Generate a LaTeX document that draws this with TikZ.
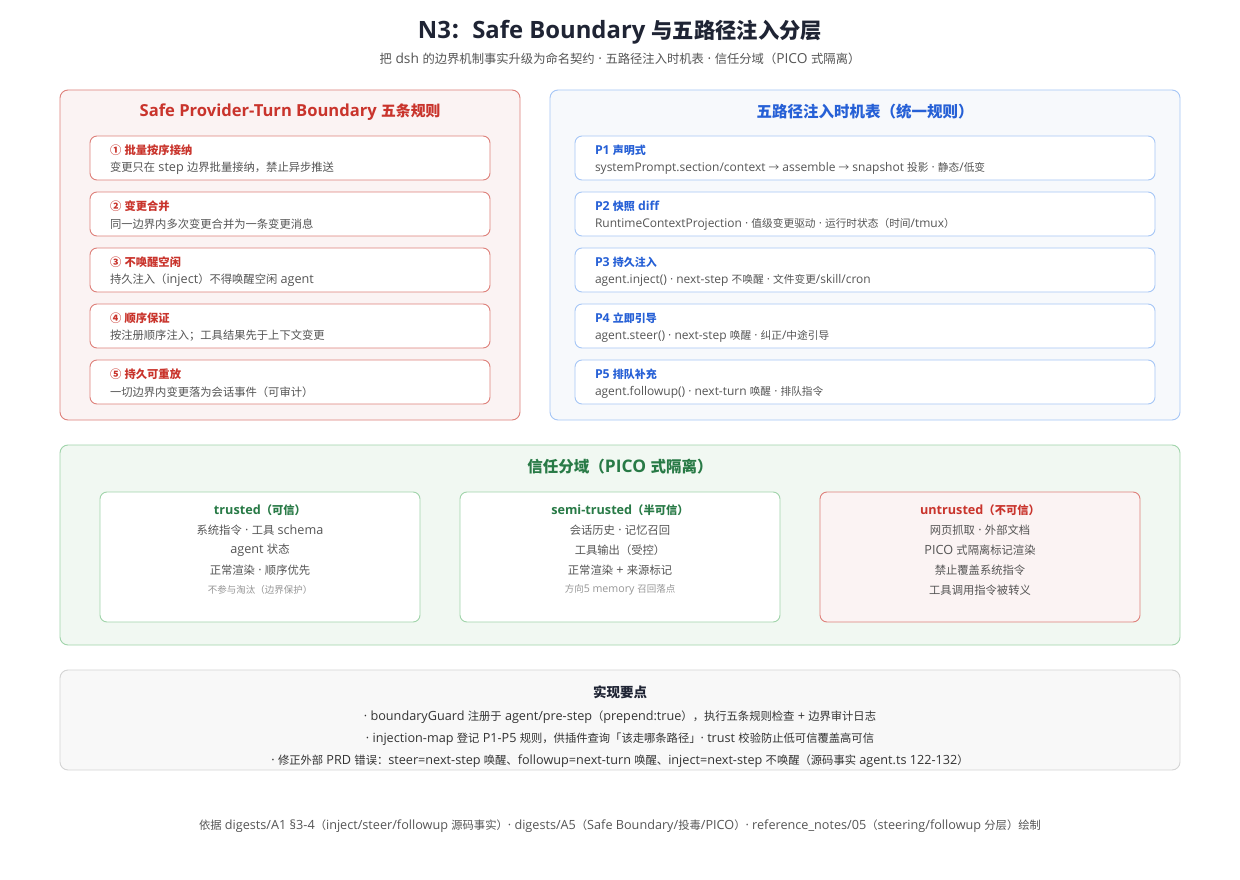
\documentclass[tikz,border=0pt]{standalone}
\usepackage{fontspec}
\setmainfont[Scale=1.12]{Open Sans}
\newfontfamily\latinfont[Scale=1.12]{Open Sans}
\newfontfamily\cjkfont{Noto Sans CJK SC}
\usetikzlibrary{positioning}
% CJK characters switch to the CJK family, everything else stays Latin
\XeTeXinterchartokenstate=1
\newXeTeXintercharclass\cjkclass
\newcommand\setcjkrange[2]{\count255=#1\relax
  \loop\XeTeXcharclass\count255=\cjkclass
  \ifnum\count255<#2\advance\count255 by 1\repeat}
\setcjkrange{"2190}{"21FF}
\setcjkrange{"2460}{"24FF}
\setcjkrange{"3000}{"303F}
\setcjkrange{"4E00}{"9FFF}
\setcjkrange{"FF00}{"FFEF}
\XeTeXinterchartoks 0 \cjkclass = {\cjkfont}
\XeTeXinterchartoks 4095 \cjkclass = {\cjkfont}
\XeTeXinterchartoks \cjkclass 0 = {\latinfont}
\XeTeXinterchartoks \cjkclass 4095 = {\latinfont}

\begin{document}
\begin{tikzpicture}[x=1pt,y=-1pt,
  panel/.style={rounded corners=8pt, line width=0.9pt},
  itembox/.style={rounded corners=7pt, line width=0.9pt, fill=white},
  txt/.style={inner sep=0pt, outer sep=0pt, font=\fontsize{11.3}{13}\selectfont},
  head/.style={txt, font=\fontsize{11.3}{13}\selectfont\bfseries},
  ptxt/.style={txt, font=\fontsize{10.7}{13}\selectfont},
  phead/.style={txt, font=\fontsize{11}{13}\selectfont\bfseries},
  note/.style={txt, font=\fontsize{9.5}{11}\selectfont},
  ptitle/.style={txt, font=\fontsize{15.5}{18}\selectfont\bfseries}]
\definecolor{inkColor}{RGB}{31,36,52}
\definecolor{darkColor}{RGB}{51,51,51}
\definecolor{greyColor}{RGB}{85,85,85}
\definecolor{noteColor}{RGB}{150,150,150}
\definecolor{redColor}{RGB}{201,52,44}
\definecolor{redLine}{RGB}{222,128,122}
\definecolor{redFill}{RGB}{251,243,243}
\definecolor{blueColor}{RGB}{38,96,214}
\definecolor{blueLine}{RGB}{166,198,246}
\definecolor{blueFill}{RGB}{247,249,252}
\definecolor{greenColor}{RGB}{40,122,70}
\definecolor{greenLine}{RGB}{160,212,170}
\definecolor{greenFill}{RGB}{241,248,242}
\definecolor{grayLine}{RGB}{212,212,212}
\definecolor{grayFill}{RGB}{248,248,248}
\path[use as bounding box,fill=white] (0,0) rectangle (1240,880);

% title
\node[txt,text=inkColor,font=\fontsize{21.3}{25}\selectfont\bfseries] (title) at (620,32) {N3：Safe Boundary 与五路径注入分层};
\node[txt,text=greyColor,font=\fontsize{12.3}{14}\selectfont] (subtitle) at (620,59) {把 dsh 的边界机制事实升级为命名契约 · 五路径注入时机表 · 信任分域（PICO 式隔离）};

% left panel: boundary rules
\path[panel,draw=redLine,fill=redFill] (60,90) rectangle (520,420);
\node[ptitle,text=redColor,font=\fontsize{14.8}{18}\selectfont\bfseries] (ruletitle) at (290,112) {Safe Provider-Turn Boundary 五条规则};
\foreach \i/\h/\d in {1/{① 批量按序接纳}/{变更只在 step 边界批量接纳，禁止异步推送},
                      2/{② 变更合并}/{同一边界内多次变更合并为一条变更消息},
                      3/{③ 不唤醒空闲}/{持久注入（inject）不得唤醒空闲 agent},
                      4/{④ 顺序保证}/{按注册顺序注入；工具结果先于上下文变更},
                      5/{⑤ 持久可重放}/{一切边界内变更落为会话事件（可审计）}}{
  \path[itembox,draw=redLine] (90,136+56*\i-56) rectangle (490,180+56*\i-56);
  \node[head,text=redColor,anchor=west] (rh\i) at (110,150+56*\i-56) {\h};
  \node[txt,text=greyColor,anchor=west] (rd\i) at (110,168+56*\i-56) {\d};
}

% right panel: five injection paths
\path[panel,draw=blueLine,fill=blueFill] (550,90) rectangle (1180,420);
\node[ptitle,text=blueColor] (pathtitle) at (865,112) {五路径注入时机表（统一规则）};
\foreach \i/\h/\d in {1/{P1 声明式}/{systemPrompt.section/context → assemble → snapshot 投影 · 静态/低变},
                      2/{P2 快照 diff}/{RuntimeContextProjection · 值级变更驱动 · 运行时状态（时间/tmux）},
                      3/{P3 持久注入}/{agent.inject() · next-step 不唤醒 · 文件变更/skill/cron},
                      4/{P4 立即引导}/{agent.steer() · next-step 唤醒 · 纠正/中途引导},
                      5/{P5 排队补充}/{agent.followup() · next-turn 唤醒 · 排队指令}}{
  \path[itembox,draw=blueLine] (575,136+56*\i-56) rectangle (1155,180+56*\i-56);
  \node[phead,text=blueColor,anchor=west] (ph\i) at (595,150+56*\i-56) {\h};
  \node[ptxt,text=greyColor,anchor=west] (pd\i) at (595,168+56*\i-56) {\d};
}

% trust zones
\path[panel,draw=greenLine,fill=greenFill] (60,445) rectangle (1180,645);
\node[ptitle,text=greenColor] (trusttitle) at (620,467) {信任分域（PICO 式隔离）};

\path[itembox,draw=greenLine] (100,492) rectangle (420,622);
\node[head,text=greenColor] (tr) at (260,510) {trusted（可信）};
\node[txt,text=greyColor] (tr1) at (260,530) {系统指令 · 工具 schema};
\node[txt,text=greyColor] (tr2) at (260,550) {agent 状态};
\node[txt,text=greyColor] (tr3) at (260,570) {正常渲染 · 顺序优先};
\node[note,text=noteColor] (tr4) at (260,590) {不参与淘汰（边界保护）};

\path[itembox,draw=greenLine] (460,492) rectangle (780,622);
\node[head,text=greenColor] (st) at (620,510) {semi-trusted（半可信）};
\node[txt,text=greyColor] (st1) at (620,530) {会话历史 · 记忆召回};
\node[txt,text=greyColor] (st2) at (620,550) {工具输出（受控）};
\node[txt,text=greyColor] (st3) at (620,570) {正常渲染 + 来源标记};
\node[note,text=noteColor] (st4) at (620,590) {方向5 memory 召回落点};

\path[itembox,draw=redLine,fill=redFill] (820,492) rectangle (1140,622);
\node[head,text=redColor] (ut) at (980,510) {untrusted（不可信）};
\node[txt,text=greyColor] (ut1) at (980,530) {网页抓取 · 外部文档};
\node[txt,text=greyColor] (ut2) at (980,550) {PICO 式隔离标记渲染};
\node[txt,text=greyColor] (ut3) at (980,570) {禁止覆盖系统指令};
\node[txt,text=greyColor] (ut4) at (980,590) {工具调用指令被转义};

% implementation notes
\path[panel,draw=grayLine,fill=grayFill] (60,670) rectangle (1180,770);
\node[txt,text=inkColor,font=\fontsize{13.5}{16}\selectfont\bfseries] (impl) at (620,692) {实现要点};
\node[txt,text=darkColor] (impl1) at (620,717) {· boundaryGuard 注册于 agent/pre-step（prepend:true），执行五条规则检查 + 边界审计日志};
\node[txt,text=darkColor] (impl2) at (620,739) {· injection-map 登记 P1-P5 规则，供插件查询「该走哪条路径」· trust 校验防止低可信覆盖高可信};
\node[txt,text=darkColor] (impl3) at (620,761) {· 修正外部 PRD 错误：steer=next-step 唤醒、followup=next-turn 唤醒、inject=next-step 不唤醒（源码事实 agent.ts 122-132）};

% footer
\node[txt,text=greyColor] (footer) at (620,826) {依据 digests/A1 §3-4（inject/steer/followup 源码事实）· digests/A5（Safe Boundary/投毒/PICO）· reference\_notes/05（steering/followup 分层）绘制};
\end{tikzpicture}
\end{document}
